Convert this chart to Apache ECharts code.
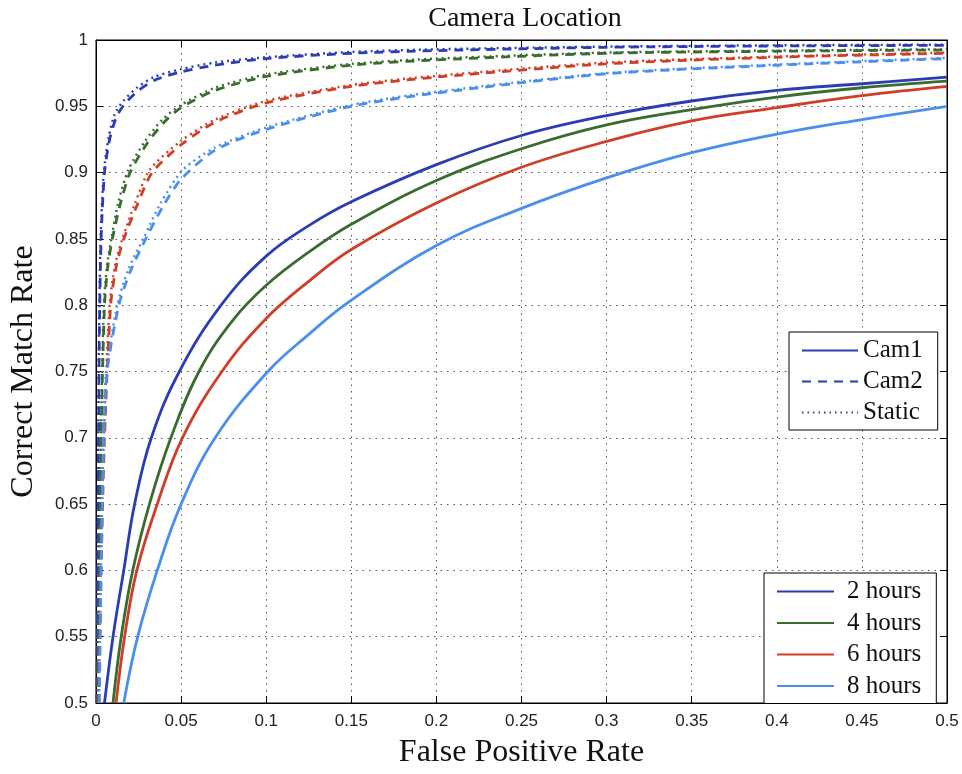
<!DOCTYPE html>
<html>
<head>
<meta charset="utf-8">
<script src="https://cdn.jsdelivr.net/npm/echarts@6/dist/echarts.min.js"></script>
<style>
html,body{margin:0;padding:0;background:#fff;}
#chart{width:962px;height:774px;}
</style>
</head>
<body>
<div id="chart"></div>
<script>
// ---- data (x = false positive rate, y = correct match rate) ----
const xTickLabels = ['0','0.05','0.1','0.15','0.2','0.25','0.3','0.35','0.4','0.45','0.5'];
const yTickLabels = ['0.5','0.55','0.6','0.65','0.7','0.75','0.8','0.85','0.9','0.95','1'];
const hourNames = ['2 hours','4 hours','6 hours','8 hours'];
const cameraNames = ['Cam1','Cam2','Static'];

const cam1_2h = [[0.005,0.5],[0.0100,0.55],[0.0163,0.6],[0.0227,0.65],[0.0325,0.7],[0.049,0.75],[0.0735,0.8],[0.1,0.837],[0.125,0.86],[0.15,0.878],[0.2,0.906],[0.25,0.928],[0.3,0.943],[0.35,0.954],[0.4,0.962],[0.45,0.967],[0.5,0.972]];
const cam1_4h = [[0.010,0.5],[0.0148,0.55],[0.0216,0.6],[0.0314,0.65],[0.044,0.7],[0.0605,0.75],[0.08,0.788],[0.1,0.815],[0.125,0.84],[0.15,0.861],[0.2,0.894],[0.25,0.918],[0.3,0.936],[0.35,0.9475],[0.4,0.957],[0.45,0.964],[0.5,0.969]];
const cam1_6h = [[0.0118,0.5],[0.0168,0.55],[0.024,0.6],[0.036,0.65],[0.0508,0.7],[0.074,0.75],[0.1,0.79],[0.125,0.818],[0.15,0.842],[0.2,0.877],[0.25,0.904],[0.3,0.9235],[0.35,0.939],[0.4,0.949],[0.45,0.958],[0.5,0.965]];
const cam1_8h = [[0.0163,0.5],[0.0245,0.55],[0.036,0.6],[0.05,0.65],[0.07,0.7],[0.101,0.75],[0.125,0.778],[0.148,0.802],[0.2,0.845],[0.25,0.873],[0.3,0.896],[0.35,0.915],[0.4,0.929],[0.45,0.94],[0.5,0.95]];

const cam2_2h = [[0.0005,0.5],[0.001,0.6],[0.0015,0.7],[0.002,0.78],[0.003,0.85],[0.005,0.9],[0.008,0.925],[0.012,0.942],[0.017,0.952],[0.025,0.962],[0.035,0.97],[0.05,0.976],[0.07,0.981],[0.1,0.986],[0.15,0.99],[0.2,0.992],[0.3,0.9945],[0.4,0.9955],[0.5,0.996]];
const cam2_4h = [[0.001,0.5],[0.002,0.6],[0.003,0.7],[0.005,0.8],[0.007,0.83],[0.0096,0.85],[0.014,0.875],[0.02,0.9],[0.03,0.922],[0.04,0.938],[0.05,0.949],[0.07,0.962],[0.1,0.9725],[0.15,0.981],[0.2,0.985],[0.3,0.99],[0.4,0.9915],[0.5,0.9925]];
const cam2_6h = [[0.0015,0.5],[0.003,0.6],[0.005,0.7],[0.0086,0.8],[0.012,0.83],[0.0164,0.85],[0.024,0.875],[0.033,0.9],[0.05,0.921],[0.07,0.938],[0.1,0.9526],[0.15,0.965],[0.2,0.972],[0.3,0.982],[0.4,0.987],[0.5,0.99]];
const cam2_8h = [[0.002,0.5],[0.003,0.6],[0.0045,0.7],[0.0065,0.75],[0.0134,0.8],[0.02,0.825],[0.03,0.852],[0.04,0.876],[0.05,0.895],[0.07,0.917],[0.1,0.9326],[0.15,0.95],[0.2,0.96],[0.3,0.9745],[0.4,0.981],[0.5,0.986]];

const static_2h = [[0.0004,0.5],[0.0009,0.6],[0.0013,0.7],[0.0018,0.78],[0.0027,0.85],[0.0046,0.9],[0.0075,0.927],[0.011,0.944],[0.016,0.954],[0.024,0.964],[0.034,0.972],[0.05,0.978],[0.07,0.983],[0.1,0.987],[0.15,0.991],[0.2,0.993],[0.3,0.995],[0.4,0.996],[0.5,0.9965]];
const static_4h = [[0.0009,0.5],[0.0018,0.6],[0.0028,0.7],[0.0046,0.8],[0.0065,0.83],[0.009,0.85],[0.013,0.877],[0.019,0.902],[0.029,0.924],[0.039,0.94],[0.05,0.951],[0.07,0.964],[0.1,0.974],[0.15,0.982],[0.2,0.986],[0.3,0.9905],[0.4,0.992],[0.5,0.993]];
const static_6h = [[0.0013,0.5],[0.0028,0.6],[0.0046,0.7],[0.008,0.8],[0.0112,0.83],[0.0155,0.85],[0.023,0.877],[0.0315,0.902],[0.05,0.924],[0.07,0.94],[0.1,0.954],[0.15,0.966],[0.2,0.973],[0.3,0.983],[0.4,0.9875],[0.5,0.9905]];
const static_8h = [[0.0018,0.5],[0.0028,0.6],[0.0042,0.7],[0.006,0.75],[0.0125,0.8],[0.019,0.827],[0.0285,0.852],[0.038,0.877],[0.051,0.902],[0.07,0.919],[0.1,0.934],[0.15,0.951],[0.2,0.961],[0.3,0.975],[0.4,0.9815],[0.5,0.9865]];

// ---- styling ----
const hourColors = ['#2b3cb4','#3a6c30','#d03e28','#4a8eee'];
const camColor = '#2b3cb4';
const serif = '"Liberation Serif","Times New Roman",serif';
const sans = '"Liberation Sans",Arial,sans-serif';

const cam1Sets = [cam1_2h, cam1_4h, cam1_6h, cam1_8h];
const cam2Sets = [cam2_2h, cam2_4h, cam2_6h, cam2_8h];
const staticSets = [static_2h, static_4h, static_6h, static_8h];

function lineSeries(name, data, color, type, width, z, smooth) {
  return {
    name: name, type: 'line', data: data, showSymbol: false, symbol: 'none',
    smooth: smooth, z: z,
    lineStyle: { color: color, width: width, type: type },
    itemStyle: { color: color }
  };
}

const series = [];
// dummy entries for the camera legend
series.push(lineSeries(cameraNames[0], [], camColor, 'solid', 2.2, 1, false));
series.push(lineSeries(cameraNames[1], [], camColor, [9, 7], 2.5, 1, false));
series.push(lineSeries(cameraNames[2], [], camColor, [1.5, 4], 1.6, 1, false));
for (let i = 0; i < 4; i++) {
  series.push(lineSeries(hourNames[i], cam1Sets[i], hourColors[i], 'solid', 2.8, 5, 0.4));
}
for (let i = 0; i < 4; i++) {
  series.push(lineSeries('Cam2 ' + hourNames[i], cam2Sets[i], hourColors[i], [9, 7], 2.8, 4, 0.25));
  series.push(lineSeries('Static ' + hourNames[i], staticSets[i], hourColors[i], [2, 4], 2.4, 3, 0.25));
}

const axisCommon = {
  min: 0, max: 0.5, interval: 0.05
};

const chart = echarts.init(document.getElementById('chart'), null, { renderer: 'canvas' });
chart.setOption({
  animation: false,
  backgroundColor: '#ffffff',
  title: {
    text: 'Camera Location',
    left: 520, top: 0, textAlign: 'center',
    textStyle: { fontFamily: serif, fontSize: 28, fontWeight: 'normal', color: '#111' }
  },
  grid: { left: 93, right: 15, top: 40, bottom: 64, show: true, borderColor: '#000', borderWidth: 1, backgroundColor: '#fff' },
  legend: [
    {
      data: cameraNames, orient: 'vertical', left: 789, top: 332,
      itemWidth: 56, itemHeight: 14, itemGap: 6,
      padding: [6, 15, 5, 12],
      borderColor: '#000', borderWidth: 1, backgroundColor: '#fff',
      itemStyle: { opacity: 0 },
      textStyle: { fontFamily: serif, fontSize: 25, color: '#111' },
      selectedMode: false
    },
    {
      data: hourNames, orient: 'vertical', left: 764, top: 573,
      itemWidth: 57, itemHeight: 14, itemGap: 6.5,
      padding: [6, 15, 5, 12],
      borderColor: '#000', borderWidth: 1, backgroundColor: '#fff',
      itemStyle: { opacity: 0 },
      textStyle: { fontFamily: serif, fontSize: 25, color: '#111', padding: [0, 0, 0, 8] },
      selectedMode: false
    }
  ],
  xAxis: [
    Object.assign({}, axisCommon, {
      type: 'value', position: 'bottom',
      name: 'False Positive Rate', nameLocation: 'middle', nameGap: 34,
      nameTextStyle: { fontFamily: serif, fontSize: 32, color: '#111' },
      axisLine: { show: true, onZero: false, lineStyle: { color: '#000', width: 1 } },
      axisTick: { show: true, inside: true, length: 7, lineStyle: { color: '#000' } },
      axisLabel: { margin: 10, fontFamily: sans, fontSize: 17, color: '#222',
        formatter: v => xTickLabels[Math.round(v / 0.05)] },
      splitLine: { show: true, lineStyle: { color: '#555', width: 1, type: [1.5, 5] } }
    }),
    Object.assign({}, axisCommon, {
      type: 'value', position: 'top',
      axisLine: { show: true, onZero: false, lineStyle: { color: '#000', width: 1 } },
      axisTick: { show: true, inside: true, length: 7, lineStyle: { color: '#000' } },
      axisLabel: { show: false }, splitLine: { show: false }
    })
  ],
  yAxis: [
    {
      type: 'value', min: 0.5, max: 1, interval: 0.05, position: 'left',
      name: 'Correct Match Rate', nameLocation: 'middle', nameGap: 56,
      nameTextStyle: { fontFamily: serif, fontSize: 32, color: '#111' },
      axisLine: { show: true, onZero: false, lineStyle: { color: '#000', width: 1 } },
      axisTick: { show: true, inside: true, length: 7, lineStyle: { color: '#000' } },
      axisLabel: { margin: 8, fontFamily: sans, fontSize: 17, color: '#222',
        formatter: v => yTickLabels[Math.round((v - 0.5) / 0.05)] },
      splitLine: { show: true, lineStyle: { color: '#555', width: 1, type: [1.5, 5] } }
    },
    {
      type: 'value', min: 0.5, max: 1, interval: 0.05, position: 'right',
      axisLine: { show: true, onZero: false, lineStyle: { color: '#000', width: 1 } },
      axisTick: { show: true, inside: true, length: 7, lineStyle: { color: '#000' } },
      axisLabel: { show: false }, splitLine: { show: false }
    }
  ],
  series: series
});
</script>
</body>
</html>
